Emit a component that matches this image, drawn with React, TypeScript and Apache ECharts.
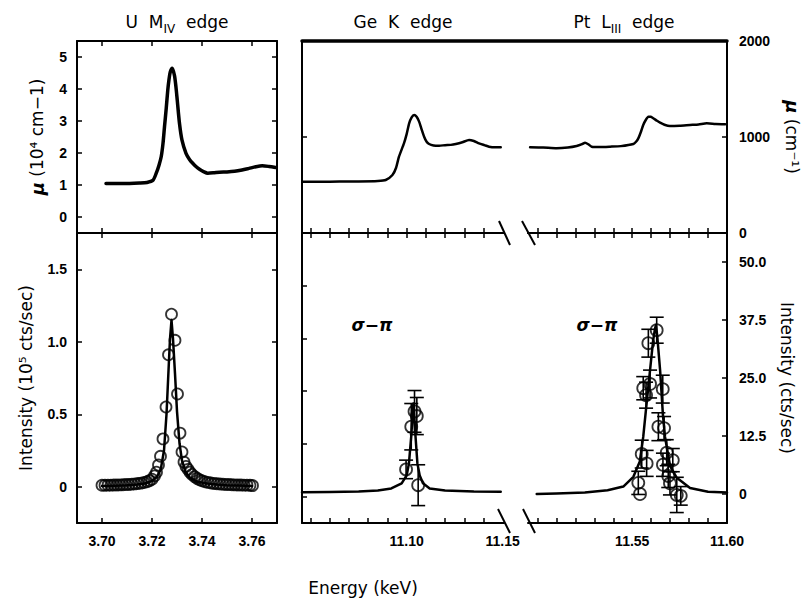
import React, { useEffect, useRef } from 'react';
import * as echarts from 'echarts';

// ---------- Data ----------
// U M_IV edge: absorption (10^4 cm^-1)
const uMuE = [3.7016, 3.706, 3.711, 3.715, 3.718, 3.7204, 3.7217, 3.7228, 3.7237, 3.7244, 3.725, 3.7257, 3.7263, 3.7268, 3.7273, 3.7281, 3.729, 3.7296, 3.7301, 3.731, 3.732, 3.7336, 3.735, 3.7363, 3.7377, 3.739, 3.7406, 3.7423, 3.7445, 3.747, 3.75, 3.753, 3.756, 3.7588, 3.7615, 3.7641, 3.7668, 3.7694];
const uMuV = [1.05, 1.05, 1.05, 1.06, 1.08, 1.15, 1.37, 1.62, 1.89, 2.3, 2.82, 3.4, 3.96, 4.3, 4.53, 4.65, 4.42, 4.05, 3.65, 2.92, 2.4, 1.99, 1.8, 1.68, 1.57, 1.49, 1.42, 1.37, 1.38, 1.4, 1.41, 1.43, 1.47, 1.52, 1.57, 1.6, 1.58, 1.55];

// U M_IV edge: resonant intensity (10^5 cts/sec)
const uIntE = [3.7, 3.7012, 3.7024, 3.7036, 3.7048, 3.706, 3.7072, 3.7084, 3.7096, 3.7108, 3.712, 3.7132, 3.7144, 3.7156, 3.7168, 3.718, 3.719, 3.72, 3.721, 3.7218, 3.7226, 3.7234, 3.7244, 3.7256, 3.7266, 3.7278, 3.7292, 3.7302, 3.7312, 3.732, 3.7328, 3.7336, 3.7344, 3.7352, 3.736, 3.737, 3.738, 3.739, 3.74, 3.7412, 3.7424, 3.7436, 3.7448, 3.746, 3.7472, 3.7484, 3.7496, 3.7508, 3.752, 3.7532, 3.7544, 3.7556, 3.7568, 3.758, 3.7592, 3.7602];
const uIntV = [0.01, 0.01, 0.011, 0.011, 0.012, 0.012, 0.013, 0.014, 0.015, 0.016, 0.018, 0.02, 0.022, 0.025, 0.029, 0.034, 0.042, 0.052, 0.075, 0.1, 0.15, 0.21, 0.33, 0.55, 0.91, 1.19, 1.01, 0.64, 0.37, 0.24, 0.17, 0.14, 0.12, 0.1, 0.085, 0.07, 0.058, 0.048, 0.041, 0.035, 0.03, 0.026, 0.023, 0.021, 0.019, 0.017, 0.016, 0.015, 0.014, 0.013, 0.012, 0.012, 0.011, 0.011, 0.01, 0.008];
const uFitE = [3.7, 3.705, 3.71, 3.714, 3.717, 3.72, 3.722, 3.7235, 3.7248, 3.7258, 3.7266, 3.7272, 3.7278, 3.7284, 3.7292, 3.73, 3.731, 3.732, 3.7335, 3.735, 3.738, 3.742, 3.746, 3.75, 3.755, 3.76];
const uFitV = [0.005, 0.007, 0.01, 0.015, 0.022, 0.04, 0.07, 0.12, 0.25, 0.5, 0.8, 1.02, 1.15, 1.02, 0.78, 0.52, 0.3, 0.18, 0.1, 0.065, 0.035, 0.022, 0.015, 0.011, 0.008, 0.006];

// Ge K edge: absorption (cm^-1)
const geMuE = [11.0457, 11.055, 11.065, 11.075, 11.085, 11.0891, 11.0926, 11.0945, 11.096, 11.0986, 11.1, 11.1013, 11.1026, 11.1039, 11.1052, 11.1065, 11.1078, 11.1091, 11.1104, 11.1117, 11.114, 11.1169, 11.12, 11.123, 11.1256, 11.129, 11.1325, 11.135, 11.1377, 11.1405, 11.1429, 11.146, 11.149];
const geMuV = [534, 534, 536, 537, 542, 552, 604, 680, 795, 934, 1030, 1142, 1205, 1229, 1210, 1160, 1080, 1003, 950, 927, 912, 909, 915, 918, 927, 945, 969, 958, 934, 915, 899, 892, 893];

// Pt L_III edge: absorption (cm^-1)
const ptMuE = [11.4961, 11.503, 11.5101, 11.516, 11.5207, 11.5235, 11.5251, 11.5268, 11.5286, 11.533, 11.5383, 11.544, 11.5506, 11.552, 11.5532, 11.5545, 11.5558, 11.5572, 11.5585, 11.5598, 11.5611, 11.563, 11.5647, 11.567, 11.5699, 11.575, 11.5805, 11.585, 11.5893, 11.594, 11.599];
const ptMuV = [893, 890, 882, 890, 906, 925, 941, 925, 899, 895, 899, 905, 927, 950, 986, 1050, 1125, 1180, 1211, 1210, 1195, 1170, 1149, 1128, 1115, 1118, 1125, 1130, 1142, 1135, 1132];

// Ge K edge: sigma-pi intensity (cts/sec)
const geFitE = [11.0455, 11.06, 11.075, 11.085, 11.092, 11.0974, 11.1, 11.1012, 11.1024, 11.1035, 11.1046, 11.1056, 11.1068, 11.1085, 11.112, 11.12, 11.135, 11.149];
const geFitV = [0.4, 0.45, 0.55, 0.75, 1.2, 2.3, 4.0, 6.6, 12.5, 19.5, 12.5, 6.6, 4.0, 2.3, 1.2, 0.75, 0.55, 0.5];
const geE = [11.0997, 11.1024, 11.1041, 11.1053, 11.106];
const geV = [5.3, 14.5, 17.8, 16.8, 1.9];
const geErr = [2.0, 5.0, 4.5, 4.0, 4.4];

// Pt L_III edge: sigma-pi intensity (cts/sec)
const ptFitE = [11.4996, 11.51, 11.525, 11.537, 11.5453, 11.5506, 11.554, 11.5558, 11.5577, 11.5594, 11.561, 11.562, 11.5625, 11.5632, 11.5647, 11.5662, 11.5673, 11.57, 11.5735, 11.5805, 11.59, 11.6];
const ptFitV = [0.0, 0.1, 0.3, 0.8, 1.6, 3.7, 7.0, 12.3, 20.0, 26.7, 33.0, 35.6, 36.4, 34.0, 26.7, 17.0, 12.3, 6.0, 3.5, 1.3, 0.5, 0.3];
const ptE = [11.5532, 11.5541, 11.555, 11.5558, 11.5573, 11.5576, 11.5585, 11.5594, 11.5629, 11.5638, 11.5661, 11.5668, 11.5662, 11.5682, 11.569, 11.5699, 11.5714, 11.5735, 11.5756];
const ptV = [2.4, 0.0, 8.6, 22.8, 21.3, 6.6, 32.5, 23.7, 35.3, 14.5, 22.6, 14.2, 6.3, 8.9, 3.9, 2.3, 7.3, -0.2, -0.4];
const ptErr = [2.5, 0, 3.0, 2.5, 2.8, 2.8, 3.0, 3.0, 2.8, 3.0, 3.0, 2.5, 2.5, 2.8, 2.5, 2.5, 2.5, 3.8, 2.0];

// Tick values
const uTicksX = [3.70, 3.72, 3.74, 3.76];
const uMuTicks = [0, 1, 2, 3, 4, 5];
const uIntTicks = [0, 0.5, 1.0, 1.5];
const geTicksX = [11.05, 11.06, 11.07, 11.08, 11.09, 11.10, 11.11, 11.12, 11.13, 11.14];
const geLabelsX = [11.10, 11.15];
const ptTicksX = [11.50, 11.51, 11.52, 11.53, 11.54, 11.55, 11.56, 11.57, 11.58, 11.59];
const ptLabelsX = [11.55, 11.60];
const muRightLabels = [0, 1000, 2000];
const muRightTicks = [1000];
const geLeftTicks = [0, 1, 2, 3, 4];
const intRightTicks = [0, 12.5, 25, 37.5, 50];

// ---------- helpers ----------
const zip = (a: number[], b: number[]) => a.map((x, i) => [x, b[i]]);
const LABEL_FONT = { fontFamily: 'Liberation Sans', fontWeight: 'bold' as const, fontSize: 14, color: '#000' };
const NAME_FONT = 'DejaVu Sans';

function axisLine(width = 2) {
  return { show: true, onZero: false, lineStyle: { color: '#000', width } };
}

function xAx(grid: number, pos: 'top' | 'bottom', min: number, max: number, ticks: number[], labels?: number[], lineWidth = 2) {
  return {
    type: 'value', gridIndex: grid, position: pos, min, max,
    axisLine: axisLine(lineWidth), splitLine: { show: false },
    axisTick: ticks.length ? { show: true, inside: true, length: 5, customValues: ticks, lineStyle: { color: '#000', width: 1.5 } } : { show: false },
    axisLabel: labels ? { show: true, customValues: labels, formatter: (v: number) => v.toFixed(2), margin: 11, ...LABEL_FONT } : { show: false },
  };
}

function yAx(grid: number, pos: 'left' | 'right', min: number, max: number, ticks: number[], labels?: number[], fmt?: (v: number) => string, extra: any = {}) {
  return {
    type: 'value', gridIndex: grid, position: pos, min, max,
    axisLine: axisLine(2), splitLine: { show: false },
    axisTick: ticks.length ? { show: true, inside: true, length: 5, customValues: ticks, lineStyle: { color: '#000', width: 1.5 } } : { show: false },
    axisLabel: labels ? { show: true, customValues: labels, formatter: fmt, margin: pos === 'left' ? 10 : 12, ...LABEL_FONT } : { show: false },
    ...extra,
  };
}

const errRender = (_params: any, api: any) => {
  const x = api.value(0);
  const a = api.coord([x, api.value(1)]);
  const b = api.coord([x, api.value(2)]);
  const w = 7;
  const st = { stroke: '#000', lineWidth: 1.6 };
  return {
    type: 'group',
    children: [
      { type: 'line', shape: { x1: a[0], y1: a[1], x2: b[0], y2: b[1] }, style: st },
      { type: 'line', shape: { x1: a[0] - w, y1: a[1], x2: a[0] + w, y2: a[1] }, style: st },
      { type: 'line', shape: { x1: b[0] - w, y1: b[1], x2: b[0] + w, y2: b[1] }, style: st },
    ],
  };
};

const errData = (e: number[], v: number[], err: number[]) =>
  e.map((x, i) => [x, v[i] - err[i], v[i] + err[i]]).filter((_, i) => err[i] > 0);

const nameStyle = {
  fontFamily: NAME_FONT, fontSize: 17, color: '#000',
  rich: { mu: { fontFamily: NAME_FONT, fontSize: 18, fontStyle: 'italic', fontWeight: 'bold', color: '#000' } },
};

function buildOption() {
  const GE_MIN = 11.0455, GE_MAX = 11.1507, PT_MIN = 11.495, PT_MAX = 11.6;
  const grids = [
    { left: 77, top: 41, width: 200, height: 192 },
    { left: 77, top: 233, width: 200, height: 290 },
    { left: 302, top: 41, width: 202, height: 192 },
    { left: 528, top: 41, width: 199, height: 192 },
    { left: 302, top: 233, width: 202, height: 290 },
    { left: 528, top: 233, width: 199, height: 290 },
    { left: 302, top: 41, width: 425, height: 192 },
  ].map((g) => ({ ...g, containLabel: false, outerBoundsMode: 'none' }));

  const xAxis = [
    xAx(0, 'bottom', 3.69, 3.77, uTicksX),
    xAx(0, 'top', 3.69, 3.77, uTicksX),
    xAx(1, 'bottom', 3.69, 3.77, uTicksX, uTicksX),
    xAx(1, 'top', 3.69, 3.77, uTicksX),
    xAx(2, 'bottom', GE_MIN, GE_MAX, geTicksX),
    xAx(3, 'bottom', PT_MIN, PT_MAX, ptTicksX),
    xAx(4, 'bottom', GE_MIN, GE_MAX, geTicksX, geLabelsX),
    xAx(4, 'top', GE_MIN, GE_MAX, geTicksX),
    xAx(5, 'bottom', PT_MIN, PT_MAX, ptTicksX, ptLabelsX),
    xAx(5, 'top', PT_MIN, PT_MAX, ptTicksX),
    xAx(6, 'top', 0, 1, [], undefined, 3.5),
  ];

  const yAxis = [
    yAx(0, 'left', -0.5, 5.5, uMuTicks, uMuTicks, (v) => String(v), {
      name: '{mu|μ} (10⁴ cm−1)', nameLocation: 'middle', nameRotate: 90, nameGap: 31, nameTextStyle: nameStyle,
    }),
    yAx(0, 'right', -0.5, 5.5, uMuTicks),
    yAx(1, 'left', -0.25, 1.75, uIntTicks, uIntTicks, (v) => (v === 0 ? '0' : v.toFixed(1)), {
      name: 'Intensity (10⁵ cts/sec)', nameLocation: 'middle', nameRotate: 90, nameGap: 43, nameTextStyle: nameStyle,
    }),
    yAx(1, 'right', -0.25, 1.75, uIntTicks),
    yAx(2, 'left', 0, 2000, muRightTicks),
    yAx(3, 'right', 0, 2000, muRightTicks, muRightLabels, (v) => String(v), {
      name: '{mu|μ} (cm⁻¹)', nameLocation: 'middle', nameRotate: -90, nameGap: 56, nameTextStyle: nameStyle,
    }),
    yAx(4, 'left', -0.5, 5, geLeftTicks),
    { type: 'value', gridIndex: 4, min: -6.25, max: 56.25, show: false, splitLine: { show: false } },
    yAx(5, 'right', -6.25, 56.25, intRightTicks, intRightTicks, (v) => (v === 0 ? '0' : v.toFixed(1)), {
      name: 'Intensity (cts/sec)', nameLocation: 'middle', nameRotate: -90, nameGap: 51, nameTextStyle: nameStyle,
    }),
    { type: 'value', gridIndex: 6, min: 0, max: 1, show: false, splitLine: { show: false } },
  ];

  const curve = (name: string, xi: number, yi: number, data: number[][], width: number, smooth: number | boolean) => ({
    name, type: 'line', xAxisIndex: xi, yAxisIndex: yi, data, showSymbol: false, smooth,
    lineStyle: { color: '#000', width, join: 'round', cap: 'round' }, z: 3,
  });
  const circles = (name: string, xi: number, yi: number, data: number[][], size: number) => ({
    name, type: 'scatter', xAxisIndex: xi, yAxisIndex: yi, data, symbol: 'circle', symbolSize: size,
    itemStyle: { color: 'rgba(255,255,255,0)', borderColor: '#000', borderWidth: 1.8 }, z: 4,
  });
  const bars = (name: string, xi: number, yi: number, data: number[][]) => ({
    name, type: 'custom', xAxisIndex: xi, yAxisIndex: yi, data, renderItem: errRender,
    encode: { x: 0, y: [1, 2] }, z: 4,
  });

  const series = [
    curve('U mu', 0, 0, zip(uMuE, uMuV), 3.5, 0.25),
    curve('U fit', 2, 2, zip(uFitE, uFitV), 2.5, false),
    circles('U intensity', 2, 2, zip(uIntE, uIntV), 11),
    curve('Ge mu', 4, 4, zip(geMuE, geMuV), 2.5, 0.2),
    curve('Pt mu', 5, 5, zip(ptMuE, ptMuV), 2.5, 0.2),
    curve('Ge fit', 6, 7, zip(geFitE, geFitV), 2.5, false),
    bars('Ge err', 6, 7, errData(geE, geV, geErr)),
    circles('Ge intensity', 6, 7, zip(geE, geV), 12),
    curve('Pt fit', 8, 8, zip(ptFitE, ptFitV), 2.5, false),
    bars('Pt err', 8, 8, errData(ptE, ptV, ptErr)),
    circles('Pt intensity', 8, 8, zip(ptE, ptV), 12),
  ];

  const titleStyle = (text: string, x: number) => ({
    type: 'text', x, y: 22,
    style: {
      text, fill: '#000', fontFamily: NAME_FONT, fontSize: 17, align: 'center', verticalAlign: 'middle',
      rich: { sub: { fontFamily: NAME_FONT, fontSize: 12, lineHeight: 12, verticalAlign: 'bottom', fill: '#000' }, t: { fontFamily: NAME_FONT, fontSize: 17, lineHeight: 26, fill: '#000' } },
    },
  });
  const sigma = (x: number) => ({
    type: 'text', x, y: 325,
    style: { text: 'σ−π', fill: '#000', fontFamily: NAME_FONT, fontSize: 17, fontStyle: 'italic', fontWeight: 'bold', align: 'center', verticalAlign: 'middle' },
  });
  const slash = (x1: number, y1: number, x2: number, y2: number) => ({
    type: 'line', shape: { x1, y1, x2, y2 }, style: { stroke: '#000', lineWidth: 2 }, z: 10,
  });

  const graphic = [
    titleStyle('{t|U  M}{sub|IV}{t|  edge}', 177),
    titleStyle('{t|Ge  K  edge}', 403),
    titleStyle('{t|Pt  L}{sub|III}{t|  edge}', 624),
    sigma(372),
    sigma(597),
    {
      type: 'text', x: 363, y: 588,
      style: { text: 'Energy (keV)', fill: '#000', fontFamily: NAME_FONT, fontSize: 17, align: 'center', verticalAlign: 'middle' },
    },
    slash(499, 221, 510, 245),
    slash(522, 221, 535, 245),
    slash(498, 509, 510, 533),
    slash(523, 509, 535, 533),
  ];

  return { animation: false, backgroundColor: '#fff', grid: grids, xAxis, yAxis, series, graphic };
}

export default function App() {
  const ref = useRef<HTMLDivElement>(null);
  useEffect(() => {
    if (!ref.current) return;
    const chart = echarts.init(ref.current, null, { renderer: 'svg' });
    chart.setOption(buildOption() as any);
    return () => chart.dispose();
  }, []);
  return <div ref={ref} style={{ position: 'fixed', left: 0, top: 0, width: 806, height: 598, background: '#fff' }} />;
}
